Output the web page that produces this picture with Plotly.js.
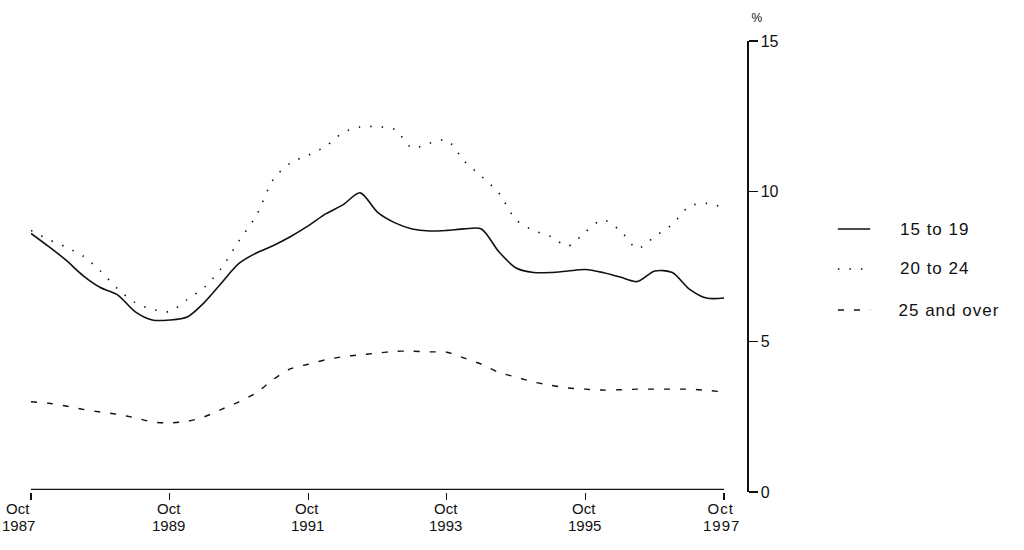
<!DOCTYPE html>
<html>
<head>
<meta charset="utf-8">
<script src="https://cdn.plot.ly/plotly-3.0.1.min.js"></script>
<style>
html,body{margin:0;padding:0;background:#fff;}
#chart{width:1024px;height:550px;}
#chart g.annotation:nth-child(n+14) text{letter-spacing:1px;}
</style>
</head>
<body>
<div id="chart"></div>
<script>
// Quarterly observations, Oct 1987 to Oct 1997
var quarters = [
  '1987-10-01','1988-01-01','1988-04-01','1988-07-01',
  '1988-10-01','1989-01-01','1989-04-01','1989-07-01',
  '1989-10-01','1990-01-01','1990-04-01','1990-07-01',
  '1990-10-01','1991-01-01','1991-04-01','1991-07-01',
  '1991-10-01','1992-01-01','1992-04-01','1992-07-01',
  '1992-10-01','1993-01-01','1993-04-01','1993-07-01',
  '1993-10-01','1994-01-01','1994-04-01','1994-07-01',
  '1994-10-01','1995-01-01','1995-04-01','1995-07-01',
  '1995-10-01','1996-01-01','1996-04-01','1996-07-01',
  '1996-10-01','1997-01-01','1997-04-01','1997-07-01',
  '1997-10-01'
];
var age15to19 = [
  8.6, 8.17, 7.72, 7.2, 6.8, 6.55, 6.0, 5.72, 5.72, 5.82,
  6.3, 6.95, 7.6, 7.95, 8.2, 8.5, 8.85, 9.25, 9.55, 9.95,
  9.3, 8.95, 8.75, 8.68, 8.7, 8.75, 8.75, 8.0, 7.45, 7.3,
  7.3, 7.35, 7.4, 7.3, 7.15, 7.0, 7.35, 7.3, 6.75, 6.45,
  6.45
];
var age20to24 = [
  8.7, 8.4, 8.15, 7.85, 7.35, 6.75, 6.3, 6.08, 6.0, 6.4,
  6.8, 7.45, 8.35, 9.2, 10.4, 10.95, 11.2, 11.5, 11.95, 12.14,
  12.15, 12.05, 11.44, 11.6, 11.7, 11.0, 10.5, 9.95, 9.05, 8.7,
  8.5, 8.18, 8.65, 9.05, 8.7, 8.1, 8.5, 8.9, 9.5, 9.6,
  9.45
];
var age25over = [
  3.0, 2.95, 2.86, 2.75, 2.66, 2.58, 2.47, 2.33, 2.3, 2.35,
  2.5, 2.75, 3.0, 3.3, 3.75, 4.1, 4.25, 4.4, 4.5, 4.56,
  4.62, 4.68, 4.68, 4.66, 4.65, 4.45, 4.25, 3.98, 3.82, 3.66,
  3.55, 3.46, 3.42, 3.39, 3.4, 3.42, 3.42, 3.42, 3.42, 3.38,
  3.33
];
var seriesNames = ['15 to 19', '20 to 24', '25 and over'];
var xTickVals = ['1987-10-01','1989-10-01','1991-10-01','1993-10-01','1995-10-01','1997-10-01'];
var xTickMonth = ['Oct','Oct','Oct','Oct','Oct','Oct'];
var xTickYear = ['1987','1989','1991','1993','1995','1997'];
var yTickVals = [0, 5, 10, 15];

var FONT = 'Liberation Sans, Arial, sans-serif';
var INK = '#111';
var dashes = ['solid', '1.5px,10px', '6px,10px'];
var widths = [1.6, 1.6, 1.4];
var allSeries = [age15to19, age20to24, age25over];

var traces = allSeries.map(function (s, i) {
  return {
    x: quarters, y: s, type: 'scatter', mode: 'lines', name: seriesNames[i],
    line: {color: INK, width: widths[i], dash: dashes[i], shape: 'spline', smoothing: 0.8},
    showlegend: false, hoverinfo: 'skip'
  };
});

var shapes = [{
  type: 'line', xref: 'x', yref: 'paper',
  x0: xTickVals[0], x1: xTickVals[xTickVals.length - 1], y0: 0.006, y1: 0.006,
  line: {color: INK, width: 1.3}
}];
var annotations = [];
// x tick labels: month line and year line (first one sits left of its tick, as in the original)
xTickVals.forEach(function (v, i) {
  var xs = i === 0 ? -13 : (i === xTickVals.length - 1 ? -3 : -1);
  annotations.push({
    text: xTickMonth[i], xref: 'x', yref: 'paper', x: v, y: 0,
    xanchor: 'center', yanchor: 'middle', yshift: -16, xshift: xs,
    showarrow: false, font: {family: FONT, size: 15, color: INK}
  });
  annotations.push({
    text: xTickYear[i], xref: 'x', yref: 'paper', x: v, y: 0,
    xanchor: 'center', yanchor: 'middle', yshift: -33, xshift: xs,
    showarrow: false, font: {family: FONT, size: 15, color: INK}
  });
});
annotations.push({
  text: '%', xref: 'paper', yref: 'paper', x: 1.0145, y: 1.05,
  xanchor: 'center', yanchor: 'middle', showarrow: false,
  font: {family: FONT, size: 12, color: INK}
});
// custom legend (paper coordinates)
var legY = [0.583, 0.4945, 0.4035];
seriesNames.forEach(function (n, i) {
  shapes.push({
    type: 'line', xref: 'paper', yref: 'paper',
    x0: 1.127, x1: 1.172, y0: legY[i], y1: legY[i],
    line: {color: INK, width: widths[i], dash: dashes[i]}
  });
  annotations.push({
    text: n, xref: 'paper', yref: 'paper', x: 1.2165, y: legY[i],
    xanchor: 'left', yanchor: 'middle', showarrow: false,
    font: {family: FONT, size: 17, color: INK}
  });
});

var layout = {
  width: 1024, height: 550,
  margin: {l: 31, r: 277, t: 41, b: 58, pad: 0},
  paper_bgcolor: '#fff', plot_bgcolor: '#fff',
  font: {family: FONT, size: 13, color: INK},
  showlegend: false,
  xaxis: {
    type: 'date', range: ['1987-10-01', '1998-01-30'],
    tickmode: 'array', tickvals: xTickVals, showticklabels: false,
    ticks: 'outside', ticklen: 7, tickwidth: 1.2, tickcolor: INK,
    showline: false, showgrid: false, zeroline: false
  },
  yaxis: {
    side: 'right', range: [0, 15],
    tickmode: 'array', tickvals: yTickVals, ticktext: yTickVals.map(String),
    ticks: 'outside', ticklen: 9, tickwidth: 1.2, tickcolor: INK,
    showline: true, linecolor: INK, linewidth: 1.5,
    showgrid: false, zeroline: false,
    tickfont: {family: FONT, size: 16, color: INK}
  },
  shapes: shapes,
  annotations: annotations
};

Plotly.newPlot('chart', traces, layout, {displayModeBar: false, staticPlot: true});
</script>
</body>
</html>
